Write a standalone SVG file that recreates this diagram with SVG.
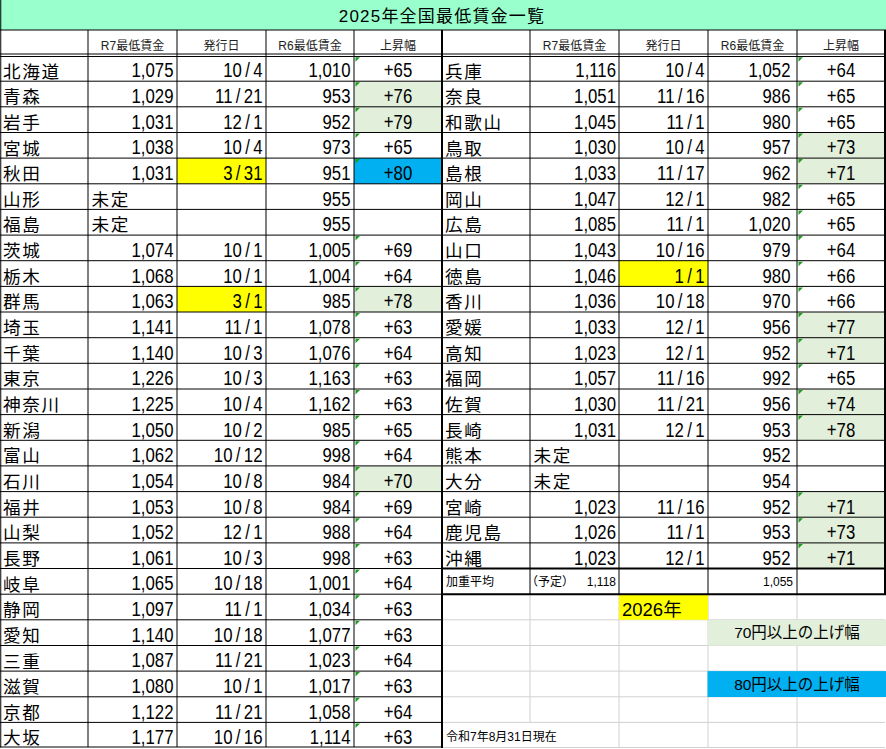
<svg xmlns="http://www.w3.org/2000/svg" xmlns:xlink="http://www.w3.org/1999/xlink" width="886" height="749" viewBox="0 0 886 749">
<style>
.nm{font-family:"Noto Sans CJK JP",sans-serif;font-size:17.6px;letter-spacing:1.6px;fill:#000}
.r{font-family:"Liberation Sans","Noto Sans CJK JP",sans-serif;font-size:19.5px;fill:#000;text-anchor:end;transform-box:fill-box;transform-origin:100% 50%;transform:scaleX(.86)}
.c{font-family:"Liberation Sans","Noto Sans CJK JP",sans-serif;font-size:19.5px;fill:#000;text-anchor:middle;transform-box:fill-box;transform-origin:50% 50%;transform:scaleX(.86)}
.hd{font-family:"Liberation Sans","Noto Sans CJK JP",sans-serif;font-size:12px;fill:#222;text-anchor:middle}
.sm{font-family:"Liberation Sans","Noto Sans CJK JP",sans-serif;font-size:12px;fill:#000}
.k{stroke:#000;stroke-width:1;fill:none}
.k2{stroke:#000;stroke-width:2;fill:none}
.g{stroke:#d0d0d0;stroke-width:1;fill:none}
.y{fill:#ffff00}
.gr{fill:#e2efda}
.bl{fill:#00b0f0}
</style>
<defs>
<path id="tri" d="M0 0h4.5L0 4.5z" fill="#1e9c1e"/>
</defs>
<rect width="886" height="749" fill="#fff"/>
<g id="title">
<rect x="0" y="0" width="886" height="30" fill="#99ffcc"/>
<text x="442" y="22" font-family="Liberation Sans,Noto Sans CJK JP,sans-serif" font-size="17" letter-spacing="1.2" text-anchor="middle">2025年全国最低賃金一覧</text>
</g>
<g id="gridlines">
<path class="g" d="M443 619.8H885M443 645.5H885M443 671.1H885M443 696.8H885M443 722.4H885M443 747.5H885M530 594.2V722.4M619 594.2V748M708 594.2V748M797 594.2V748"/>
</g>
<g id="fills">
<rect class="y" x="177" y="158.1" width="89" height="25.7"/>
<rect class="y" x="177" y="286.4" width="89" height="25.6"/>
<rect class="gr" x="354" y="81.2" width="88" height="25.6"/>
<rect class="gr" x="354" y="106.8" width="88" height="25.7"/>
<rect class="gr" x="354" y="286.4" width="88" height="25.6"/>
<rect class="gr" x="354" y="465.9" width="88" height="25.7"/>
<rect class="bl" x="354" y="158.1" width="88" height="25.7"/>
<rect class="y" x="619" y="260.7" width="89" height="25.7"/>
<rect class="gr" x="797" y="132.5" width="88" height="25.6"/>
<rect class="gr" x="797" y="158.1" width="88" height="25.7"/>
<rect class="gr" x="797" y="312.0" width="88" height="25.7"/>
<rect class="gr" x="797" y="337.7" width="88" height="25.6"/>
<rect class="gr" x="797" y="389.0" width="88" height="25.6"/>
<rect class="gr" x="797" y="414.6" width="88" height="25.7"/>
<rect class="gr" x="797" y="491.6" width="88" height="25.6"/>
<rect class="gr" x="797" y="517.2" width="88" height="25.7"/>
<rect class="gr" x="797" y="542.9" width="88" height="25.6"/>
<rect class="y" x="619" y="594.2" width="89" height="25.6"/>
<rect class="gr" x="707.5" y="619.8" width="178.5" height="25.9"/>
<rect class="bl" x="707.5" y="671.1" width="178.5" height="25.9"/>
</g>
<g id="borders">
<path class="k" d="M0 30H886M0 54H885M0 56.5H885"/>
<path class="k" stroke-width="1.5" d="M0.75 0V747.5M0 747H442"/>
<path class="k" d="M88 30V747M177 30V747M266 30V747M354 30V747M530 30V594M619 30V594M708 30V594M797 30V594"/>
<path class="k" d="M0 81.2H442M0 106.8H442M0 132.5H442M0 158.1H442M0 183.8H442M0 209.4H442M0 235.1H442M0 260.7H442M0 286.4H442M0 312H442M0 337.7H442M0 363.3H442M0 389H442M0 414.6H442M0 440.3H442M0 465.9H442M0 491.6H442M0 517.2H442M0 542.9H442M0 568.5H442M0 594.2H442M0 619.8H442M0 645.5H442M0 671.1H442M0 696.8H442M0 722.4H442"/>
<path class="k" d="M442 81.2H885M442 106.8H885M442 132.5H885M442 158.1H885M442 183.8H885M442 209.4H885M442 235.1H885M442 260.7H885M442 286.4H885M442 312H885M442 337.7H885M442 363.3H885M442 389H885M442 414.6H885M442 440.3H885M442 465.9H885M442 491.6H885M442 517.2H885M442 542.9H885"/>
<path class="k2" d="M442 30V748M885 30V595M442 568.5H886M442 594.2H886"/>
</g>
<g id="markers">
<use xlink:href="#tri" x="355.5" y="57.3"/><use xlink:href="#tri" x="355.5" y="82.2"/><use xlink:href="#tri" x="355.5" y="107.8"/><use xlink:href="#tri" x="355.5" y="133.5"/><use xlink:href="#tri" x="355.5" y="159.1"/>
<use xlink:href="#tri" x="355.5" y="236.1"/><use xlink:href="#tri" x="355.5" y="261.7"/><use xlink:href="#tri" x="355.5" y="287.4"/><use xlink:href="#tri" x="355.5" y="313"/><use xlink:href="#tri" x="355.5" y="338.7"/><use xlink:href="#tri" x="355.5" y="364.3"/><use xlink:href="#tri" x="355.5" y="390"/><use xlink:href="#tri" x="355.5" y="415.6"/><use xlink:href="#tri" x="355.5" y="441.3"/><use xlink:href="#tri" x="355.5" y="466.9"/><use xlink:href="#tri" x="355.5" y="492.6"/><use xlink:href="#tri" x="355.5" y="518.2"/><use xlink:href="#tri" x="355.5" y="543.9"/><use xlink:href="#tri" x="355.5" y="569.5"/><use xlink:href="#tri" x="355.5" y="595.2"/><use xlink:href="#tri" x="355.5" y="620.8"/><use xlink:href="#tri" x="355.5" y="646.5"/><use xlink:href="#tri" x="355.5" y="672.1"/><use xlink:href="#tri" x="355.5" y="697.8"/><use xlink:href="#tri" x="355.5" y="723.4"/>
<use xlink:href="#tri" x="798.5" y="57.3"/><use xlink:href="#tri" x="798.5" y="82.2"/><use xlink:href="#tri" x="798.5" y="107.8"/><use xlink:href="#tri" x="798.5" y="133.5"/><use xlink:href="#tri" x="798.5" y="159.1"/><use xlink:href="#tri" x="798.5" y="184.8"/><use xlink:href="#tri" x="798.5" y="210.4"/><use xlink:href="#tri" x="798.5" y="236.1"/><use xlink:href="#tri" x="798.5" y="261.7"/><use xlink:href="#tri" x="798.5" y="287.4"/><use xlink:href="#tri" x="798.5" y="313"/><use xlink:href="#tri" x="798.5" y="338.7"/><use xlink:href="#tri" x="798.5" y="364.3"/><use xlink:href="#tri" x="798.5" y="390"/><use xlink:href="#tri" x="798.5" y="415.6"/>
<use xlink:href="#tri" x="798.5" y="492.6"/><use xlink:href="#tri" x="798.5" y="518.2"/><use xlink:href="#tri" x="798.5" y="543.9"/>
</g>
<g id="header">
<text class="hd" x="132.5" y="49.5">R7最低賃金</text><text class="hd" x="221.5" y="49.5">発行日</text><text class="hd" x="310" y="49.5">R6最低賃金</text><text class="hd" x="398" y="49.5">上昇幅</text>
<text class="hd" x="574.5" y="49.5">R7最低賃金</text><text class="hd" x="663.5" y="49.5">発行日</text><text class="hd" x="752.5" y="49.5">R6最低賃金</text><text class="hd" x="841" y="49.5">上昇幅</text>
</g>
<g id="left-table">
<g id="L0"><text class="nm" x="3" y="77.5">北海道</text><text class="r" x="173.5" y="77.5">1,075</text><text class="r" x="262.5" y="77.5">10&#8201;/&#8201;4</text><text class="r" x="350.5" y="77.5">1,010</text><text class="c" x="398" y="77.5">+65</text></g>
<g id="L1"><text class="nm" x="3" y="103.2">青森</text><text class="r" x="173.5" y="103.2">1,029</text><text class="r" x="262.5" y="103.2">11&#8201;/&#8201;21</text><text class="r" x="350.5" y="103.2">953</text><text class="c" x="398" y="103.2">+76</text></g>
<g id="L2"><text class="nm" x="3" y="128.8">岩手</text><text class="r" x="173.5" y="128.8">1,031</text><text class="r" x="262.5" y="128.8">12&#8201;/&#8201;1</text><text class="r" x="350.5" y="128.8">952</text><text class="c" x="398" y="128.8">+79</text></g>
<g id="L3"><text class="nm" x="3" y="154.5">宮城</text><text class="r" x="173.5" y="154.5">1,038</text><text class="r" x="262.5" y="154.5">10&#8201;/&#8201;4</text><text class="r" x="350.5" y="154.5">973</text><text class="c" x="398" y="154.5">+65</text></g>
<g id="L4"><text class="nm" x="3" y="180.1">秋田</text><text class="r" x="173.5" y="180.1">1,031</text><text class="r" x="262.5" y="180.1">3&#8201;/&#8201;31</text><text class="r" x="350.5" y="180.1">951</text><text class="c" x="398" y="180.1">+80</text></g>
<g id="L5"><text class="nm" x="3" y="205.8">山形</text><text class="nm" x="91.5" y="205.8">未定</text><text class="r" x="350.5" y="205.8">955</text></g>
<g id="L6"><text class="nm" x="3" y="231.4">福島</text><text class="nm" x="91.5" y="231.4">未定</text><text class="r" x="350.5" y="231.4">955</text></g>
<g id="L7"><text class="nm" x="3" y="257.1">茨城</text><text class="r" x="173.5" y="257.1">1,074</text><text class="r" x="262.5" y="257.1">10&#8201;/&#8201;1</text><text class="r" x="350.5" y="257.1">1,005</text><text class="c" x="398" y="257.1">+69</text></g>
<g id="L8"><text class="nm" x="3" y="282.7">栃木</text><text class="r" x="173.5" y="282.7">1,068</text><text class="r" x="262.5" y="282.7">10&#8201;/&#8201;1</text><text class="r" x="350.5" y="282.7">1,004</text><text class="c" x="398" y="282.7">+64</text></g>
<g id="L9"><text class="nm" x="3" y="308.4">群馬</text><text class="r" x="173.5" y="308.4">1,063</text><text class="r" x="262.5" y="308.4">3&#8201;/&#8201;1</text><text class="r" x="350.5" y="308.4">985</text><text class="c" x="398" y="308.4">+78</text></g>
<g id="L10"><text class="nm" x="3" y="334">埼玉</text><text class="r" x="173.5" y="334">1,141</text><text class="r" x="262.5" y="334">11&#8201;/&#8201;1</text><text class="r" x="350.5" y="334">1,078</text><text class="c" x="398" y="334">+63</text></g>
<g id="L11"><text class="nm" x="3" y="359.7">千葉</text><text class="r" x="173.5" y="359.7">1,140</text><text class="r" x="262.5" y="359.7">10&#8201;/&#8201;3</text><text class="r" x="350.5" y="359.7">1,076</text><text class="c" x="398" y="359.7">+64</text></g>
<g id="L12"><text class="nm" x="3" y="385.3">東京</text><text class="r" x="173.5" y="385.3">1,226</text><text class="r" x="262.5" y="385.3">10&#8201;/&#8201;3</text><text class="r" x="350.5" y="385.3">1,163</text><text class="c" x="398" y="385.3">+63</text></g>
<g id="L13"><text class="nm" x="3" y="411">神奈川</text><text class="r" x="173.5" y="411">1,225</text><text class="r" x="262.5" y="411">10&#8201;/&#8201;4</text><text class="r" x="350.5" y="411">1,162</text><text class="c" x="398" y="411">+63</text></g>
<g id="L14"><text class="nm" x="3" y="436.6">新潟</text><text class="r" x="173.5" y="436.6">1,050</text><text class="r" x="262.5" y="436.6">10&#8201;/&#8201;2</text><text class="r" x="350.5" y="436.6">985</text><text class="c" x="398" y="436.6">+65</text></g>
<g id="L15"><text class="nm" x="3" y="462.3">富山</text><text class="r" x="173.5" y="462.3">1,062</text><text class="r" x="262.5" y="462.3">10&#8201;/&#8201;12</text><text class="r" x="350.5" y="462.3">998</text><text class="c" x="398" y="462.3">+64</text></g>
<g id="L16"><text class="nm" x="3" y="487.9">石川</text><text class="r" x="173.5" y="487.9">1,054</text><text class="r" x="262.5" y="487.9">10&#8201;/&#8201;8</text><text class="r" x="350.5" y="487.9">984</text><text class="c" x="398" y="487.9">+70</text></g>
<g id="L17"><text class="nm" x="3" y="513.6">福井</text><text class="r" x="173.5" y="513.6">1,053</text><text class="r" x="262.5" y="513.6">10&#8201;/&#8201;8</text><text class="r" x="350.5" y="513.6">984</text><text class="c" x="398" y="513.6">+69</text></g>
<g id="L18"><text class="nm" x="3" y="539.2">山梨</text><text class="r" x="173.5" y="539.2">1,052</text><text class="r" x="262.5" y="539.2">12&#8201;/&#8201;1</text><text class="r" x="350.5" y="539.2">988</text><text class="c" x="398" y="539.2">+64</text></g>
<g id="L19"><text class="nm" x="3" y="564.9">長野</text><text class="r" x="173.5" y="564.9">1,061</text><text class="r" x="262.5" y="564.9">10&#8201;/&#8201;3</text><text class="r" x="350.5" y="564.9">998</text><text class="c" x="398" y="564.9">+63</text></g>
<g id="L20"><text class="nm" x="3" y="590.5">岐阜</text><text class="r" x="173.5" y="590.5">1,065</text><text class="r" x="262.5" y="590.5">10&#8201;/&#8201;18</text><text class="r" x="350.5" y="590.5">1,001</text><text class="c" x="398" y="590.5">+64</text></g>
<g id="L21"><text class="nm" x="3" y="616.2">静岡</text><text class="r" x="173.5" y="616.2">1,097</text><text class="r" x="262.5" y="616.2">11&#8201;/&#8201;1</text><text class="r" x="350.5" y="616.2">1,034</text><text class="c" x="398" y="616.2">+63</text></g>
<g id="L22"><text class="nm" x="3" y="641.8">愛知</text><text class="r" x="173.5" y="641.8">1,140</text><text class="r" x="262.5" y="641.8">10&#8201;/&#8201;18</text><text class="r" x="350.5" y="641.8">1,077</text><text class="c" x="398" y="641.8">+63</text></g>
<g id="L23"><text class="nm" x="3" y="667.5">三重</text><text class="r" x="173.5" y="667.5">1,087</text><text class="r" x="262.5" y="667.5">11&#8201;/&#8201;21</text><text class="r" x="350.5" y="667.5">1,023</text><text class="c" x="398" y="667.5">+64</text></g>
<g id="L24"><text class="nm" x="3" y="693.1">滋賀</text><text class="r" x="173.5" y="693.1">1,080</text><text class="r" x="262.5" y="693.1">10&#8201;/&#8201;1</text><text class="r" x="350.5" y="693.1">1,017</text><text class="c" x="398" y="693.1">+63</text></g>
<g id="L25"><text class="nm" x="3" y="718.8">京都</text><text class="r" x="173.5" y="718.8">1,122</text><text class="r" x="262.5" y="718.8">11&#8201;/&#8201;21</text><text class="r" x="350.5" y="718.8">1,058</text><text class="c" x="398" y="718.8">+64</text></g>
<g id="L26"><text class="nm" x="3" y="744.4">大坂</text><text class="r" x="173.5" y="744.4">1,177</text><text class="r" x="262.5" y="744.4">10&#8201;/&#8201;16</text><text class="r" x="350.5" y="744.4">1,114</text><text class="c" x="398" y="744.4">+63</text></g>
</g>
<g id="right-table">
<g id="R0"><text class="nm" x="445" y="77.5">兵庫</text><text class="r" x="616" y="77.5">1,116</text><text class="r" x="704.5" y="77.5">10&#8201;/&#8201;4</text><text class="r" x="790.5" y="77.5">1,052</text><text class="c" x="841" y="77.5">+64</text></g>
<g id="R1"><text class="nm" x="445" y="103.2">奈良</text><text class="r" x="616" y="103.2">1,051</text><text class="r" x="704.5" y="103.2">11&#8201;/&#8201;16</text><text class="r" x="790.5" y="103.2">986</text><text class="c" x="841" y="103.2">+65</text></g>
<g id="R2"><text class="nm" x="445" y="128.8">和歌山</text><text class="r" x="616" y="128.8">1,045</text><text class="r" x="704.5" y="128.8">11&#8201;/&#8201;1</text><text class="r" x="790.5" y="128.8">980</text><text class="c" x="841" y="128.8">+65</text></g>
<g id="R3"><text class="nm" x="445" y="154.5">鳥取</text><text class="r" x="616" y="154.5">1,030</text><text class="r" x="704.5" y="154.5">10&#8201;/&#8201;4</text><text class="r" x="790.5" y="154.5">957</text><text class="c" x="841" y="154.5">+73</text></g>
<g id="R4"><text class="nm" x="445" y="180.1">島根</text><text class="r" x="616" y="180.1">1,033</text><text class="r" x="704.5" y="180.1">11&#8201;/&#8201;17</text><text class="r" x="790.5" y="180.1">962</text><text class="c" x="841" y="180.1">+71</text></g>
<g id="R5"><text class="nm" x="445" y="205.8">岡山</text><text class="r" x="616" y="205.8">1,047</text><text class="r" x="704.5" y="205.8">12&#8201;/&#8201;1</text><text class="r" x="790.5" y="205.8">982</text><text class="c" x="841" y="205.8">+65</text></g>
<g id="R6"><text class="nm" x="445" y="231.4">広島</text><text class="r" x="616" y="231.4">1,085</text><text class="r" x="704.5" y="231.4">11&#8201;/&#8201;1</text><text class="r" x="790.5" y="231.4">1,020</text><text class="c" x="841" y="231.4">+65</text></g>
<g id="R7"><text class="nm" x="445" y="257.1">山口</text><text class="r" x="616" y="257.1">1,043</text><text class="r" x="704.5" y="257.1">10&#8201;/&#8201;16</text><text class="r" x="790.5" y="257.1">979</text><text class="c" x="841" y="257.1">+64</text></g>
<g id="R8"><text class="nm" x="445" y="282.7">徳島</text><text class="r" x="616" y="282.7">1,046</text><text class="r" x="704.5" y="282.7">1&#8201;/&#8201;1</text><text class="r" x="790.5" y="282.7">980</text><text class="c" x="841" y="282.7">+66</text></g>
<g id="R9"><text class="nm" x="445" y="308.4">香川</text><text class="r" x="616" y="308.4">1,036</text><text class="r" x="704.5" y="308.4">10&#8201;/&#8201;18</text><text class="r" x="790.5" y="308.4">970</text><text class="c" x="841" y="308.4">+66</text></g>
<g id="R10"><text class="nm" x="445" y="334">愛媛</text><text class="r" x="616" y="334">1,033</text><text class="r" x="704.5" y="334">12&#8201;/&#8201;1</text><text class="r" x="790.5" y="334">956</text><text class="c" x="841" y="334">+77</text></g>
<g id="R11"><text class="nm" x="445" y="359.7">高知</text><text class="r" x="616" y="359.7">1,023</text><text class="r" x="704.5" y="359.7">12&#8201;/&#8201;1</text><text class="r" x="790.5" y="359.7">952</text><text class="c" x="841" y="359.7">+71</text></g>
<g id="R12"><text class="nm" x="445" y="385.3">福岡</text><text class="r" x="616" y="385.3">1,057</text><text class="r" x="704.5" y="385.3">11&#8201;/&#8201;16</text><text class="r" x="790.5" y="385.3">992</text><text class="c" x="841" y="385.3">+65</text></g>
<g id="R13"><text class="nm" x="445" y="411">佐賀</text><text class="r" x="616" y="411">1,030</text><text class="r" x="704.5" y="411">11&#8201;/&#8201;21</text><text class="r" x="790.5" y="411">956</text><text class="c" x="841" y="411">+74</text></g>
<g id="R14"><text class="nm" x="445" y="436.6">長崎</text><text class="r" x="616" y="436.6">1,031</text><text class="r" x="704.5" y="436.6">12&#8201;/&#8201;1</text><text class="r" x="790.5" y="436.6">953</text><text class="c" x="841" y="436.6">+78</text></g>
<g id="R15"><text class="nm" x="445" y="462.3">熊本</text><text class="nm" x="533.5" y="462.3">未定</text><text class="r" x="790.5" y="462.3">952</text></g>
<g id="R16"><text class="nm" x="445" y="487.9">大分</text><text class="nm" x="533.5" y="487.9">未定</text><text class="r" x="790.5" y="487.9">954</text></g>
<g id="R17"><text class="nm" x="445" y="513.6">宮崎</text><text class="r" x="616" y="513.6">1,023</text><text class="r" x="704.5" y="513.6">11&#8201;/&#8201;16</text><text class="r" x="790.5" y="513.6">952</text><text class="c" x="841" y="513.6">+71</text></g>
<g id="R18"><text class="nm" x="445" y="539.2">鹿児島</text><text class="r" x="616" y="539.2">1,026</text><text class="r" x="704.5" y="539.2">11&#8201;/&#8201;1</text><text class="r" x="790.5" y="539.2">953</text><text class="c" x="841" y="539.2">+73</text></g>
<g id="R19"><text class="nm" x="445" y="564.9">沖縄</text><text class="r" x="616" y="564.9">1,023</text><text class="r" x="704.5" y="564.9">12&#8201;/&#8201;1</text><text class="r" x="790.5" y="564.9">952</text><text class="c" x="841" y="564.9">+71</text></g>
<g id="avg"><text class="sm" x="446" y="586">加重平均</text><text class="sm" x="526" y="586">（予定）</text><text class="sm" x="616" y="586" font-size="11" text-anchor="end">1,118</text><text class="sm" x="793" y="586" font-size="11" text-anchor="end">1,055</text></g>
</g>
<g id="notes">
<text x="622" y="615.5" font-family="Liberation Sans,Noto Sans CJK JP,sans-serif" font-size="18.5">2026年</text>
<text x="797" y="638.3" font-family="Liberation Sans,Noto Sans CJK JP,sans-serif" font-size="15.5" text-anchor="middle">70円以上の上げ幅</text>
<text x="797" y="689.6" font-family="Liberation Sans,Noto Sans CJK JP,sans-serif" font-size="15.5" text-anchor="middle">80円以上の上げ幅</text>
<text class="sm" x="446" y="740.5" font-size="12.5">令和7年8月31日現在</text>
</g>
</svg>
